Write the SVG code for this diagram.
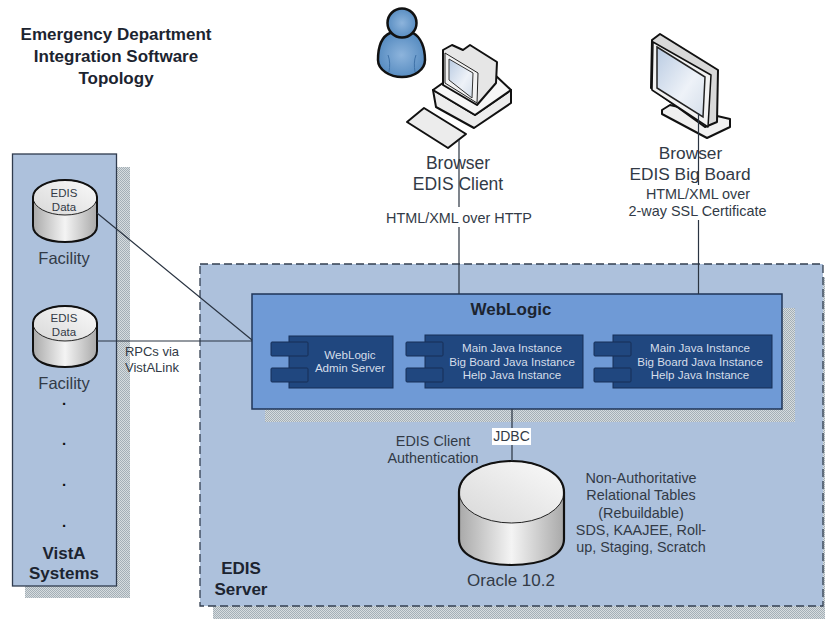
<svg xmlns="http://www.w3.org/2000/svg" width="825" height="619" viewBox="0 0 825 619">
<defs>
<pattern id="dots" width="2" height="2" patternUnits="userSpaceOnUse"><rect width="2" height="2" fill="#d6dcdf"/><rect width="1" height="1" fill="#a4afb6"/><rect x="1" y="1" width="1" height="1" fill="#a4afb6"/></pattern>
<linearGradient id="cyl" x1="0" x2="1" y1="0" y2="0"><stop offset="0" stop-color="#a9a9a9"/><stop offset=".5" stop-color="#f4f4f4"/><stop offset="1" stop-color="#a9a9a9"/></linearGradient>
<linearGradient id="cylTop" x1="0" x2="1" y1="1" y2="0"><stop offset="0" stop-color="#d8d8d8"/><stop offset="1" stop-color="#fafafa"/></linearGradient>
<radialGradient id="person" cx=".5" cy=".5" r=".6"><stop offset="0" stop-color="#8db4dc"/><stop offset="1" stop-color="#4f86bd"/></radialGradient>
<linearGradient id="screen" x1="0" y1="0" x2="1" y2="1"><stop offset="0" stop-color="#b9cbe2"/><stop offset=".6" stop-color="#eef2f8"/><stop offset="1" stop-color="#d4deea"/></linearGradient>
</defs>
<style>
text{font-family:"Liberation Sans",Arial,sans-serif;fill:#323a46;text-anchor:middle}
.b{font-weight:bold;fill:#1c2430;font-size:17px}
.w{fill:#d5deea;font-size:11.6px}
.l{font-size:14.4px}
.conn{fill:none;stroke:#2a3442;stroke-width:1.2}
.k{stroke:#111;stroke-width:2;stroke-linejoin:round}
.comp{fill:#20477f;stroke:#162f57;stroke-width:1}
.thick{fill:none;stroke:#111;stroke-width:2}
.rim{stroke:#222;stroke-width:1}
</style>
<rect width="825" height="619" fill="#fff"/>
<g id="title"><text class="b" x="116" y="40">Emergency Department</text><text class="b" x="116" y="62">Integration Software</text><text class="b" x="116" y="84">Topology</text></g>

<g id="vista-systems">
<rect x="25" y="167" width="105" height="431" fill="url(#dots)"/>
<rect x="12.500" y="154" width="104" height="432" fill="#adc1dc" stroke="#2f3b4d" stroke-width="1.300"/>
<text class="b" x="64" y="559">VistA</text><text class="b" x="64" y="579">Systems</text>
<g font-size="15" font-weight="bold"><text x="64" y="405" style="fill:#111">.</text><text x="64" y="445" style="fill:#111">.</text><text x="64" y="486" style="fill:#111">.</text><text x="64" y="527" style="fill:#111">.</text></g>
</g>

<g id="edis-server">
<rect x="213" y="277" width="612" height="342" fill="url(#dots)"/>
<rect x="200" y="264" width="623" height="342" fill="#adc1dc" stroke="#333f50" stroke-width="1.300" stroke-dasharray="8 4"/>
<text class="b" x="241" y="574">EDIS</text><text class="b" x="241" y="595">Server</text>
</g>

<g id="facility-1">
<path d="M33 197V226C33 236 47 242 65 242S97 236 97 226V197Z" fill="url(#cyl)"/>
<ellipse cx="65" cy="197.500" rx="32" ry="17.500" fill="url(#cylTop)" class="rim"/>
<path class="thick" d="M65 180C47 180 33 188 33 197V226C33 236 47 242 65 242S97 236 97 226V197C97 188 83 180 65 180Z"/>
<text font-size="11.500" x="64" y="197">EDIS</text><text font-size="11.500" x="64" y="211">Data</text>
<text font-size="16.500" x="64" y="264">Facility</text>
</g>
<g id="facility-2">
<path d="M33 323V351C33 361 47 367 65 367S97 361 97 351V323Z" fill="url(#cyl)"/>
<ellipse cx="65" cy="323.500" rx="32" ry="17.500" fill="url(#cylTop)" class="rim"/>
<path class="thick" d="M65 306C47 306 33 314 33 323V351C33 361 47 367 65 367S97 361 97 351V323C97 314 83 306 65 306Z"/>
<text font-size="11.500" x="64" y="322">EDIS</text><text font-size="11.500" x="64" y="336">Data</text>
<text font-size="16.500" x="64" y="389">Facility</text>
</g>

<g id="rpc-label"><text font-size="13" x="152" y="356">RPCs via</text><text font-size="13" x="152" y="372">VistALink</text></g>

<g id="weblogic">
<rect x="265" y="308" width="530" height="114" fill="url(#dots)"/>
<rect x="252" y="294" width="530" height="115" fill="#6f9ad6" stroke="#1f3557" stroke-width="1.500"/>
<text class="b" x="511" y="315">WebLogic</text>
</g>
<g id="admin-server">
<rect class="comp" x="289" y="336" width="104" height="52"/>
<rect class="comp" x="271" y="342" width="37" height="14" rx="1"/>
<rect class="comp" x="271" y="368" width="37" height="14" rx="1"/>
<text class="w" x="350" y="359">WebLogic</text><text class="w" x="350" y="372">Admin Server</text>
</g>
<g id="java-1">
<rect class="comp" x="425" y="335" width="158" height="53"/>
<rect class="comp" x="406" y="342" width="37" height="14" rx="1"/>
<rect class="comp" x="406" y="368" width="37" height="14" rx="1"/>
<text class="w" x="512" y="352">Main Java Instance</text><text class="w" x="512" y="366">Big Board Java Instance</text><text class="w" x="512" y="379">Help Java Instance</text>
</g>
<g id="java-2">
<rect class="comp" x="613" y="335" width="159" height="53"/>
<rect class="comp" x="594" y="342" width="37" height="14" rx="1"/>
<rect class="comp" x="594" y="368" width="37" height="14" rx="1"/>
<text class="w" x="700" y="352">Main Java Instance</text><text class="w" x="700" y="366">Big Board Java Instance</text><text class="w" x="700" y="379">Help Java Instance</text>
</g>

<g id="auth"><text class="l" x="433" y="446">EDIS Client</text><text class="l" x="433" y="463">Authentication</text></g>

<g id="oracle">
<path d="M459 492V539C459 556 482 565 511.500 565S564 556 564 539V492Z" fill="url(#cyl)"/>
<ellipse cx="511.500" cy="492" rx="52.500" ry="31" fill="url(#cylTop)" class="rim"/>
<path d="M511.500 461C482 461 459 475 459 492V539C459 556 482 565 511.500 565S564 556 564 539V492C564 475 541 461 511.500 461Z" fill="none" stroke="#111" stroke-width="2.200"/>
<text font-size="17" x="511" y="586">Oracle 10.2</text>
</g>
<g id="tables"><text class="l" x="641" y="483">Non-Authoritative</text><text class="l" x="641" y="500">Relational Tables</text><text class="l" x="641" y="518">(Rebuildable)</text><text class="l" x="641" y="535">SDS, KAAJEE, Roll-</text><text class="l" x="641" y="552">up, Staging, Scratch</text></g>

<g id="user">
<path d="M390 33C381 37 378 48 378 60C378 70 390 77 402 77C414 77 425 70 425 60C425 48 421 37 413 33Z" fill="url(#person)" stroke="#111" stroke-width="2.500" stroke-linejoin="round"/>
<path d="M388 55C390 60 390 66 389 72M416 55C414 60 414 66 415 72" fill="none" stroke="#3f72a8" stroke-width="1"/>
<circle cx="402" cy="23" r="14.500" fill="url(#person)" stroke="#111" stroke-width="2.500"/>
</g>

<g id="client-pc">
<path class="k" d="M433 90L475 115L511 90V103L474 128L436 107Z" fill="#ececec"/>
<path class="k" d="M433 90L447 80L495 75L511 90L475 115Z" fill="#f7f7f7"/>
<path class="k" d="M443 85V50L452 45L463 50L470 45L497 62L496 83L477 105Z" fill="#e6e6e6"/>
<path d="M445 53L478 73L477 103L445 83Z" fill="#f2f2f2" stroke="#222" stroke-width="1"/>
<path d="M449 59L473 73L472 98L449 80Z" fill="url(#screen)" stroke="#333"/>
<path class="k" d="M407 122L424 108L466 134L448 148Z" fill="#ececec"/>
<text font-size="17.500" x="458" y="169">Browser</text><text font-size="17.500" x="458" y="190">EDIS Client</text>
</g>
<g id="label-http"><text class="l" x="459" y="223">HTML/XML over HTTP</text></g>

<g id="big-board">
<path class="k" d="M662 110L670 105L730 119V127L707 138L662 114Z" fill="#f0f0f0"/>
<path class="k" d="M652 40L660 34L718 70L717 122L705 127L651 88Z" fill="#d8d8d8"/>
<path d="M653 42L711 75L708 127L652 90Z" fill="#f2f2f2" stroke="#111" stroke-width="1.500" stroke-linejoin="round"/>
<path d="M657 47L705 77L703 117L657 88Z" fill="url(#screen)" stroke="#222" stroke-width="1.500"/>
<text font-size="17.300" x="690.500" y="159">Browser</text><text font-size="17.300" x="690" y="180">EDIS Big Board</text>
</g>
<g id="label-ssl"><text class="l" x="698" y="199">HTML/XML over</text><text class="l" x="697.500" y="216">2-way SSL Certificate</text></g>

<g id="connectors">
<path class="conn" d="M459 140V207M459 227V294M698.500 113V185M698.500 220V294M97 213L252 340M97 341H252M512 409V461"/>
</g>
<g id="jdbc"><rect x="492" y="428" width="39" height="17" fill="#fff"/><text font-size="14" x="511.500" y="441">JDBC</text></g>
</svg>
